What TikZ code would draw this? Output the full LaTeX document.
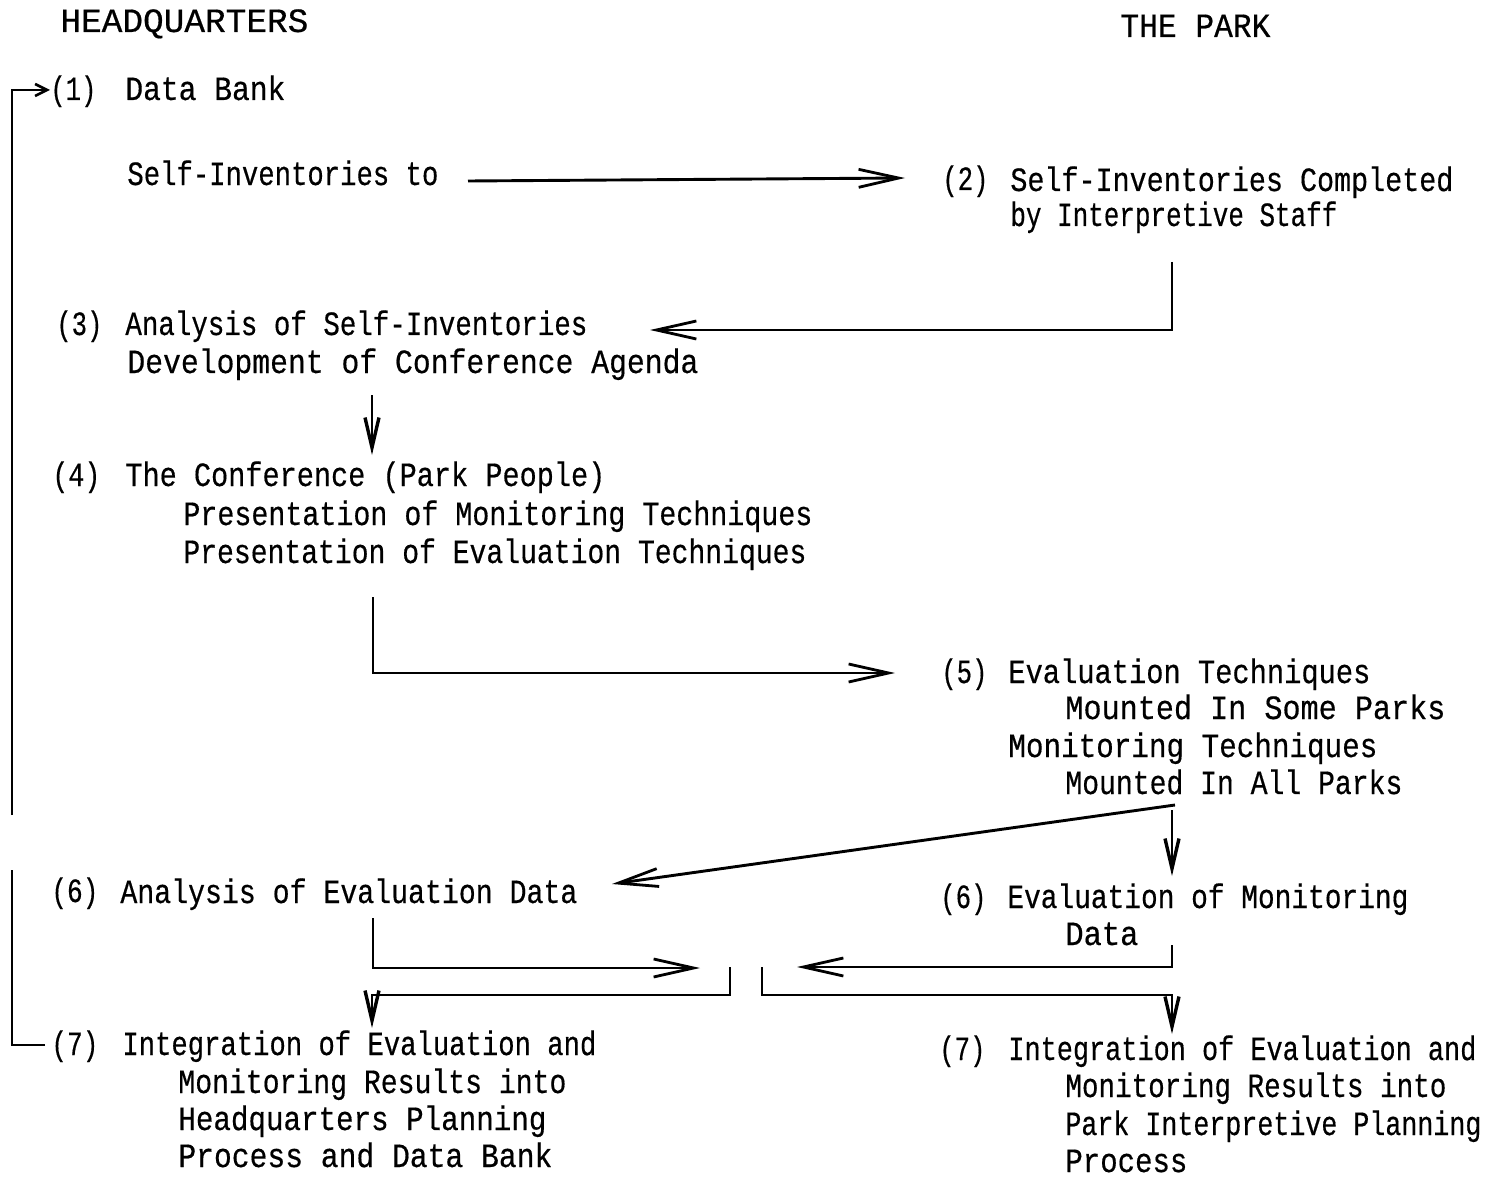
\documentclass[tikz,border=0pt]{standalone}
\usepackage{fontspec}
\setmainfont{Liberation Mono}[FakeBold=0.5]
\usetikzlibrary{arrows.meta}
\newdimen\pxu \pxu=0.5pt
\newcommand\tl[2]{\resizebox{#1\pxu}{\height}{#2}}
\tikzset{
  txt/.style={anchor=base west, inner sep=0pt, font=\fontsize{17}{20}\selectfont},
  ln/.style={line width=1.45pt, line join=miter},
  arr/.style={ln, -{Straight Barb[length=20pt,width=9pt,line width=1.4pt]}},
  darr/.style={ln, -{Straight Barb[length=15pt,width=7pt,line width=1.7pt]}},
  sarr/.style={ln, -{Straight Barb[length=6pt,width=6pt,line width=1.3pt]}},
}
\begin{document}
\begin{tikzpicture}[x=0.5pt,y=-0.5pt]
\useasboundingbox (0,0) rectangle (1496,1177);
% headings
\node[txt] (hq) at (60,32) {\tl{248}{HEADQUARTERS}};
\node[txt] (pk) at (1120,37) {\tl{150}{THE PARK}};
% (1)
\node[txt] (n1) at (50,100) {\tl{46}{(1)}};
\node[txt] (t1) at (125,100) {\tl{160}{Data Bank}};
\node[txt] (si) at (127,185) {\tl{311}{Self-Inventories to}};
% (2)
\node[txt] (n2) at (942,190) {\tl{46}{(2)}};
\node[txt] (t2a) at (1010,191) {\tl{443}{Self-Inventories Completed}};
\node[txt] (t2b) at (1010,226) {\tl{327}{by Interpretive Staff}};
% (3)
\node[txt] (n3) at (56,335) {\tl{46}{(3)}};
\node[txt] (t3a) at (125,335) {\tl{462}{Analysis of Self-Inventories}};
\node[txt] (t3b) at (127,373) {\tl{571}{Development of Conference Agenda}};
% (4)
\node[txt] (n4) at (52,486) {\tl{48}{(4)}};
\node[txt] (t4a) at (125,486) {\tl{480}{The Conference (Park People)}};
\node[txt] (t4b) at (183,525) {\tl{629}{Presentation of Monitoring Techniques}};
\node[txt] (t4c) at (183,563) {\tl{623}{Presentation of Evaluation Techniques}};
% (5)
\node[txt] (n5) at (941,683) {\tl{46}{(5)}};
\node[txt] (t5a) at (1008,683) {\tl{362}{Evaluation Techniques}};
\node[txt] (t5b) at (1065,719) {\tl{380}{Mounted In Some Parks}};
\node[txt] (t5c) at (1008,757) {\tl{369}{Monitoring Techniques}};
\node[txt] (t5d) at (1065,794) {\tl{337}{Mounted In All Parks}};
% (6) left
\node[txt] (n6l) at (51,902) {\tl{47}{(6)}};
\node[txt] (t6l) at (120,903) {\tl{457}{Analysis of Evaluation Data}};
% (6) right
\node[txt] (n6r) at (940,908) {\tl{46}{(6)}};
\node[txt] (t6ra) at (1007,908) {\tl{401}{Evaluation of Monitoring}};
\node[txt] (t6rb) at (1065,945) {\tl{73}{Data}};
% (7) left
\node[txt] (n7l) at (51,1055) {\tl{47}{(7)}};
\node[txt] (t7la) at (122,1055) {\tl{474}{Integration of Evaluation and}};
\node[txt] (t7lb) at (178,1093) {\tl{388}{Monitoring Results into}};
\node[txt] (t7lc) at (178,1130) {\tl{368}{Headquarters Planning}};
\node[txt] (t7ld) at (178,1167) {\tl{374}{Process and Data Bank}};
% (7) right
\node[txt] (n7r) at (939,1060) {\tl{46}{(7)}};
\node[txt] (t7ra) at (1008,1060) {\tl{468}{Integration of Evaluation and}};
\node[txt] (t7rb) at (1065,1097) {\tl{381}{Monitoring Results into}};
\node[txt] (t7rc) at (1065,1135) {\tl{416}{Park Interpretive Planning}};
\node[txt] (t7rd) at (1065,1172) {\tl{122}{Process}};

% connector coordinates
\coordinate (fbEnd) at (45,1045);
\coordinate (fbLowTop) at (12,870);
\coordinate (fbUpBot) at (12,815);
\coordinate (a1tip) at (50,90);
\coordinate (a2s) at (468,181);
\coordinate (a2e) at (905,178);
\coordinate (a3s) at (1172,262);
\coordinate (a3e) at (650,330);
\coordinate (a4s) at (372,395);
\coordinate (a4e) at (372,455);
\coordinate (a5s) at (373,597);
\coordinate (a5e) at (895,673);
\coordinate (a6s) at (1175,805);
\coordinate (a6e) at (612,884);
\coordinate (a7s) at (1172,810);
\coordinate (a7e) at (1172,876);
\coordinate (b1s) at (373,918);
\coordinate (b1e) at (700,968);
\coordinate (b2s) at (1172,945);
\coordinate (b2e) at (797,967);
\coordinate (c1s) at (730,967);
\coordinate (c1m) at (730,995);
\coordinate (c1e) at (372,1028);
\coordinate (c2s) at (762,967);
\coordinate (c2m) at (762,995);
\coordinate (c2e) at (1172,1034);

% feedback line on left
\draw[ln] (fbEnd) -| (fbLowTop);
\draw[sarr] (fbUpBot) |- (a1tip);
% arrows
\draw[arr] (a2s) -- (a2e);
\draw[arr] (a3s) |- (a3e);
\draw[darr] (a4s) -- (a4e);
\draw[arr] (a5s) |- (a5e);
\draw[arr] (a6s) -- (a6e);
\draw[darr] (a7s) -- (a7e);
\draw[arr] (b1s) |- (b1e);
\draw[arr] (b2s) |- (b2e);
\draw[darr] (c1s) -- (c1m) -| (c1e);
\draw[darr] (c2s) -- (c2m) -| (c2e);
\end{tikzpicture}
\end{document}
